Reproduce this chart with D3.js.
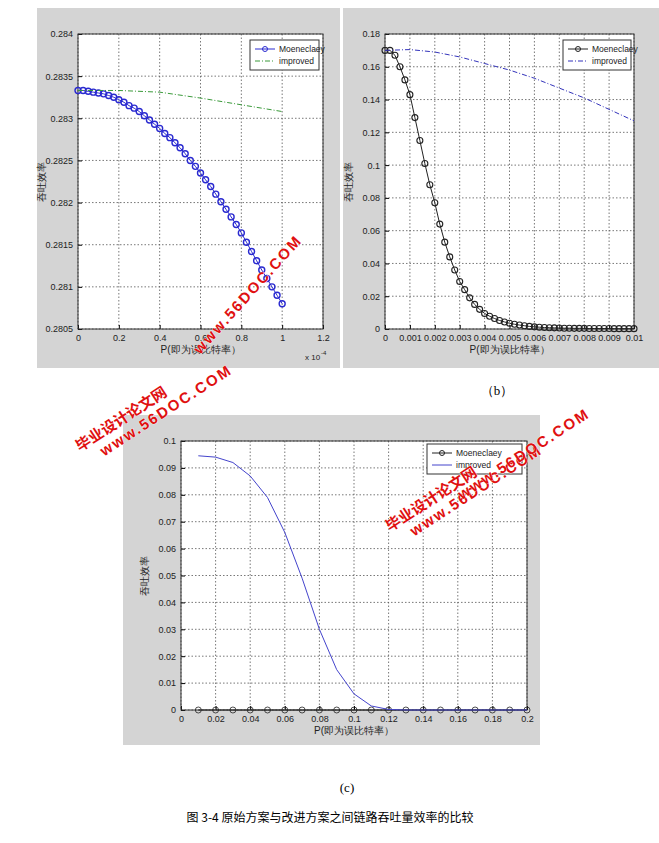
<!DOCTYPE html>
<html><head><meta charset="utf-8">
<script src="https://d3js.org/d3.v7.min.js"></script>
<style>body{margin:0;background:#fff}svg{display:block;font-family:"Liberation Sans",Arial,sans-serif}</style>
</head><body><div id="chart"></div>
<script>
// (a) x in units of 1e-4, step 0.025
const aStep = 0.025;
const aMoen = [0.28333,0.28333,0.28332,0.28331,0.28330,0.28329,0.28327,0.28325,0.28322,0.28319,
  0.28315,0.28312,0.28308,0.28303,0.28298,0.28293,0.28288,0.28282,0.28277,0.28271,
  0.28265,0.28258,0.28250,0.28243,0.28235,0.28227,0.28219,0.28210,0.28201,0.28192,
  0.28183,0.28174,0.28164,0.28153,0.28142,0.28131,0.28120,0.28110,0.28100,0.28090,0.28080];
const aImpX = [0, 0.2, 0.4, 0.6, 0.8, 1.0];
const aImp = [0.28333, 0.28333, 0.28331, 0.28324, 0.28316, 0.28308];
const aYTicks = [0.2805,0.281,0.2815,0.282,0.2825,0.283,0.2835,0.284];
const aXTicks = [0,0.2,0.4,0.6,0.8,1,1.2];

// (b) step 0.0002
const bStep = 0.0002;
const bMoen = [0.170,0.170,0.167,0.160,0.152,0.143,0.129,0.115,0.101,0.088,
  0.077,0.064,0.053,0.044,0.036,0.029,0.024,0.019,0.015,0.012,
  0.0095,0.0078,0.0064,0.0052,0.0043,0.0035,0.0029,0.0024,0.0020,0.0016,
  0.0013,0.0011,0.0009,0.0008,0.0007,0.0006,0.0005,0.0005,0.0004,0.0004,
  0.0004,0.0003,0.0003,0.0003,0.0003,0.0003,0.0002,0.0002,0.0002,0.0002,0.0002];
const bImpX = [0,0.001,0.002,0.003,0.004,0.005,0.006,0.007,0.008,0.009,0.01];
const bImp = [0.170,0.1705,0.169,0.166,0.162,0.158,0.153,0.147,0.141,0.134,0.127];
const bYTicks = [0,0.02,0.04,0.06,0.08,0.1,0.12,0.14,0.16,0.18];
const bXTicks = [0,0.001,0.002,0.003,0.004,0.005,0.006,0.007,0.008,0.009,0.01];

// (c)
const cX = [0.01,0.02,0.03,0.04,0.05,0.06,0.07,0.08,0.09,0.1,0.11,0.12,0.13,0.14,0.15,0.16,0.17,0.18,0.19,0.2];
const cMoen = cX.map(() => 0);
const cImp = [0.0945,0.094,0.092,0.087,0.079,0.066,0.049,0.030,0.015,0.006,0.0015,0.0002,0,0,0,0,0,0,0,0];
const cYTicks = [0,0.01,0.02,0.03,0.04,0.05,0.06,0.07,0.08,0.09,0.1];
const cXTicks = [0,0.02,0.04,0.06,0.08,0.1,0.12,0.14,0.16,0.18,0.2];

const svg = d3.select("#chart").append("svg").attr("width",659).attr("height",843);

function panel(o){
  svg.append("rect").attr("x",o.bg[0]).attr("y",o.bg[1]).attr("width",o.bg[2]).attr("height",o.bg[3]).attr("fill","#d4d4d4");
  const x = d3.scaleLinear().domain(o.xd).range([o.l,o.r]);
  const y = d3.scaleLinear().domain(o.yd).range([o.b,o.t]);
  const g = svg.append("g");
  g.append("rect").attr("x",o.l).attr("y",o.t).attr("width",o.r-o.l).attr("height",o.b-o.t).attr("fill","#fff");
  o.xt.forEach(v=>g.append("line").attr("x1",x(v)).attr("x2",x(v)).attr("y1",o.t).attr("y2",o.b).attr("stroke","#555").attr("stroke-width",0.8).attr("stroke-dasharray","1.5,2"));
  o.yt.forEach(v=>g.append("line").attr("x1",o.l).attr("x2",o.r).attr("y1",y(v)).attr("y2",y(v)).attr("stroke","#555").attr("stroke-width",0.8).attr("stroke-dasharray","1.5,2"));
  g.append("g").attr("transform",`translate(0,${o.b})`).call(d3.axisBottom(x).tickValues(o.xt).tickSize(-4).tickPadding(6).tickFormat(d=>String(+d.toFixed(4))));
  g.append("g").attr("transform",`translate(${o.l},0)`).call(d3.axisLeft(y).tickValues(o.yt).tickSize(-4).tickPadding(5).tickFormat(d=>String(+d.toFixed(4))));
  g.selectAll(".tick text").attr("font-size",9).attr("fill","#222").attr("font-family","Liberation Sans Narrow, Liberation Sans, Arial");
  g.selectAll(".domain").remove();
  g.append("rect").attr("x",o.l).attr("y",o.t).attr("width",o.r-o.l).attr("height",o.b-o.t).attr("fill","none").attr("stroke","#333");
  const ln = d3.line().x(d=>x(d[0])).y(d=>y(d[1]));
  o.series.forEach(s=>{
    const pts = s.x.map((v,i)=>[v,s.y[i]]);
    g.append("path").datum(pts).attr("d",ln).attr("fill","none").attr("stroke",s.color).attr("stroke-width",1).attr("stroke-dasharray",s.dash||null);
    if(s.marker) g.selectAll(null).data(pts).join("circle").attr("cx",d=>x(d[0])).attr("cy",d=>y(d[1])).attr("r",3).attr("fill","none").attr("stroke",s.color).attr("stroke-width",s.mw||0.8);
  });
  const lg = o.legend;
  g.append("rect").attr("x",lg[0]).attr("y",lg[1]).attr("width",lg[2]).attr("height",30).attr("fill","#fff").attr("stroke","#333");
  o.series.forEach((s,i)=>{
    const yy = lg[1]+9+i*12;
    g.append("line").attr("x1",lg[0]+5).attr("x2",lg[0]+25).attr("y1",yy).attr("y2",yy).attr("stroke",s.color).attr("stroke-dasharray",s.dash||null);
    if(s.marker) g.append("circle").attr("cx",lg[0]+15).attr("cy",yy).attr("r",2.5).attr("fill","none").attr("stroke",s.color);
    g.append("text").attr("x",lg[0]+29).attr("y",yy+3).attr("font-size",8.5).attr("fill","#222").text(s.name);
  });
  g.append("text").attr("x",(o.l+o.r)/2).attr("y",o.b+24).attr("text-anchor","middle").attr("font-size",10).attr("fill","#222").text("P(即为误比特率）");
  g.append("text").attr("transform",`translate(${o.l-33},${(o.t+o.b)/2}) rotate(-90)`).attr("text-anchor","middle").attr("font-size",10).attr("fill","#222").text("吞吐效率");
  return g;
}

const ga = panel({bg:[37,8,303,360],l:78,r:323,t:34,b:329,xd:[0,1.2],yd:[0.2805,0.284],xt:aXTicks,yt:aYTicks,legend:[250,40,69,30],
  series:[{name:"Moeneclaey",x:aMoen.map((d,i)=>i*aStep),y:aMoen,color:"#2a2ad0",marker:true,mw:1.4},{name:"improved",x:aImpX,y:aImp,color:"#3a9a3a",dash:"5,2,1,2"}]});
ga.append("text").attr("x",305).attr("y",360).attr("font-size",8).attr("fill","#222").text("x 10");
ga.append("text").attr("x",321).attr("y",355).attr("font-size",6).attr("fill","#222").text("-4");

panel({bg:[343,8,316,360],l:385,r:634,t:34,b:329,xd:[0,0.01],yd:[0,0.18],xt:bXTicks,yt:bYTicks,legend:[563,40,68,30],
  series:[{name:"Moeneclaey",x:bMoen.map((d,i)=>i*bStep),y:bMoen,color:"#222",marker:true,mw:1.1},{name:"improved",x:bImpX,y:bImp,color:"#3333bb",dash:"5,2,1,2"}]});

panel({bg:[123,415,417,330],l:181,r:527,t:441,b:710,xd:[0,0.2],yd:[0,0.1],xt:cXTicks,yt:cYTicks,legend:[427,444,95,30],
  series:[{name:"Moeneclaey",x:cX,y:cMoen,color:"#222",marker:true},{name:"improved",x:cX,y:cImp,color:"#4444cc"}]});

svg.append("text").attr("x",497).attr("y",395).attr("text-anchor","middle").attr("font-size",13).attr("font-family","Liberation Serif").text("（b）");
svg.append("text").attr("x",347).attr("y",792).attr("text-anchor","middle").attr("font-size",13).attr("font-family","Liberation Serif").text("(c)");
svg.append("text").attr("x",330).attr("y",822).attr("text-anchor","middle").attr("font-size",12).attr("font-family","Noto Sans CJK SC").text("图 3-4  原始方案与改进方案之间链路吞吐量效率的比较");

function wm(x,y,ang){
  const w = svg.append("g").attr("transform",`translate(${x},${y}) rotate(${ang})`).attr("fill","#e01010").attr("stroke","#fff").attr("stroke-width",0.6).attr("font-weight","bold").attr("paint-order","stroke");
  w.append("text").attr("font-size",15).attr("font-family","Noto Sans CJK SC").text("毕业设计论文网");
  w.append("text").attr("x",18).attr("y",17).attr("font-size",15).attr("letter-spacing",2).text("www.56DOC.COM");
}
wm(80,452,-33);
wm(390,532,-33);
svg.append("text").attr("transform","translate(200,355) rotate(-48)").attr("fill","#e01010").attr("stroke","#fff").attr("stroke-width",0.6).attr("paint-order","stroke").attr("font-weight","bold").attr("font-size",15).attr("letter-spacing",2).text("www.56DOC.COM");
svg.append("text").attr("transform","translate(462,500) rotate(-33)").attr("fill","#e01010").attr("stroke","#fff").attr("stroke-width",0.6).attr("paint-order","stroke").attr("font-weight","bold").attr("font-size",15).attr("letter-spacing",2).text("www.56DOC.COM");
</script></body></html>
